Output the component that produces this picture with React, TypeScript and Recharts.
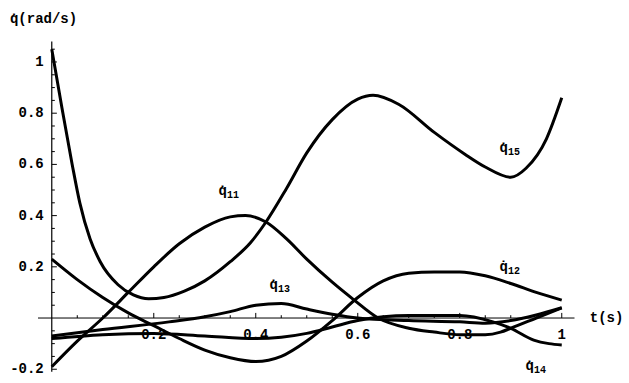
import React from "react";
import {
  LineChart,
  Line,
  XAxis,
  YAxis,
  ReferenceLine,
  ReferenceDot,
} from "recharts";

// each curve as [t, qdot] pairs
const q11: [number, number][] = [
  [0, -0.19], [0.05, -0.09], [0.1, 0.0], [0.15, 0.1], [0.2, 0.2], [0.25, 0.29],
  [0.3, 0.355], [0.35, 0.395], [0.38, 0.4], [0.42, 0.375], [0.46, 0.31], [0.5, 0.23],
  [0.55, 0.14], [0.59, 0.075], [0.64, 0.0], [0.7, -0.04], [0.75, -0.055], [0.8, -0.065],
  [0.85, -0.065], [0.88, -0.055], [0.9, -0.04], [0.95, 0.0], [1, 0.04],
];
const q12: [number, number][] = [
  [0, 0.23], [0.05, 0.15], [0.1, 0.08], [0.15, 0.02], [0.2, -0.03], [0.25, -0.08],
  [0.3, -0.125], [0.35, -0.155], [0.4, -0.17], [0.45, -0.15], [0.5, -0.09], [0.55, -0.01],
  [0.6, 0.08], [0.65, 0.145], [0.7, 0.175], [0.75, 0.18], [0.8, 0.18], [0.85, 0.165],
  [0.9, 0.135], [0.95, 0.1], [1, 0.07],
];
const q13: [number, number][] = [
  [0, -0.07], [0.1, -0.045], [0.23, -0.015], [0.3, 0.005], [0.35, 0.025], [0.4, 0.05],
  [0.45, 0.057], [0.5, 0.035], [0.55, 0.015], [0.6, 0.0], [0.7, -0.01], [0.8, -0.015],
  [0.85, -0.02], [0.9, -0.01], [0.95, 0.012], [1, 0.04],
];
const q14: [number, number][] = [
  [0, -0.08], [0.1, -0.065], [0.2, -0.06], [0.3, -0.07], [0.4, -0.08], [0.45, -0.075],
  [0.5, -0.06], [0.55, -0.035], [0.6, -0.01], [0.65, 0.005], [0.7, 0.01], [0.8, 0.01],
  [0.865, -0.015], [0.9, -0.04], [0.945, -0.086], [0.975, -0.1], [1, -0.105],
];
const q15: [number, number][] = [
  [0, 1.05], [0.02, 0.82], [0.04, 0.6], [0.055, 0.45], [0.075, 0.31], [0.095, 0.22],
  [0.13, 0.13], [0.16, 0.09], [0.19, 0.075], [0.22, 0.08], [0.26, 0.105], [0.3, 0.145],
  [0.35, 0.22], [0.39, 0.295], [0.42, 0.375], [0.46, 0.505], [0.5, 0.645], [0.55, 0.775],
  [0.6, 0.855], [0.63, 0.87], [0.68, 0.835], [0.75, 0.725], [0.81, 0.64], [0.85, 0.59],
  [0.9, 0.55], [0.93, 0.585], [0.97, 0.7], [1, 0.86],
];

const xTicks = [0.2, 0.4, 0.6, 0.8, 1];
const xTickLabels = ["0.2", "0.4", "0.6", "0.8", "1"];
const xMinor = [0.05, 0.1, 0.15, 0.25, 0.3, 0.35, 0.45, 0.5, 0.55, 0.65, 0.7, 0.75, 0.85, 0.9, 0.95];
const yTicks = [-0.2, 0.2, 0.4, 0.6, 0.8, 1];
const yTickLabels = ["-0.2", "0.2", "0.4", "0.6", "0.8", "1"];
const yMinor = [
  -0.15, -0.1, -0.05, 0.05, 0.1, 0.15, 0.25, 0.3, 0.35, 0.45, 0.5, 0.55,
  0.65, 0.7, 0.75, 0.85, 0.9, 0.95, 1.05,
];

const curves = [
  { name: "11", pts: q11, lx: 0.347, ly: 0.496 },
  { name: "12", pts: q12, lx: 0.898, ly: 0.2 },
  { name: "13", pts: q13, lx: 0.447, ly: 0.129 },
  { name: "14", pts: q14, lx: 0.949, ly: -0.1875 },
  { name: "15", pts: q15, lx: 0.898, ly: 0.664 },
];

const X_DOMAIN: [number, number] = [-0.027, 1.025];
const Y_DOMAIN: [number, number] = [-0.21, 1.08];
const FONT = "'Liberation Mono', 'DejaVu Sans Mono', monospace";

const TextAt = (props: any) => {
  const { viewBox, text, sub, anchor = "middle", dx = 0, dy = 0 } = props;
  if (!viewBox) return null;
  const cx = viewBox.x + (viewBox.width || 0) / 2 + dx;
  const cy = viewBox.y + (viewBox.height || 0) / 2 + dy;
  return (
    <text
      x={cx}
      y={cy}
      textAnchor={anchor}
      dominantBaseline="central"
      fontFamily={FONT}
      fontSize={14}
      fontWeight="bold"
      fill="#000"
    >
      {text}
      {sub && (
        <tspan fontSize={10} dy={4}>
          {sub}
        </tspan>
      )}
    </text>
  );
};

export default function App() {
  return (
    <div style={{ position: "absolute", left: 0, top: 0, background: "#fff" }}>
      <LineChart
        width={629}
        height={383}
        margin={{ top: 41.5, right: 54.5, bottom: 11.2, left: 38 }}
      >
        <XAxis dataKey="t" type="number" domain={X_DOMAIN} allowDataOverflow hide />
        <YAxis type="number" domain={Y_DOMAIN} allowDataOverflow hide />

        {/* axes through the origin */}
        <ReferenceLine
          segment={[{ x: X_DOMAIN[0], y: 0 }, { x: X_DOMAIN[1], y: 0 }]}
          stroke="#000"
          strokeWidth={1}
          ifOverflow="visible"
        />
        <ReferenceLine
          segment={[{ x: 0, y: Y_DOMAIN[0] }, { x: 0, y: Y_DOMAIN[1] }]}
          stroke="#000"
          strokeWidth={1.2}
          ifOverflow="visible"
        />
        {xTicks.map((t) => (
          <ReferenceLine
            key={"xt" + t}
            segment={[{ x: t, y: 0 }, { x: t, y: 0.02 }]}
            stroke="#000"
            ifOverflow="visible"
          />
        ))}
        {xMinor.map((t) => (
          <ReferenceLine
            key={"xm" + t}
            segment={[{ x: t, y: 0 }, { x: t, y: 0.011 }]}
            stroke="#000"
            ifOverflow="visible"
          />
        ))}
        {yTicks.map((v) => (
          <ReferenceLine
            key={"yt" + v}
            segment={[{ x: 0, y: v }, { x: 0.01, y: v }]}
            stroke="#000"
            ifOverflow="visible"
          />
        ))}
        {yMinor.map((v) => (
          <ReferenceLine
            key={"ym" + v}
            segment={[{ x: 0, y: v }, { x: 0.006, y: v }]}
            stroke="#000"
            ifOverflow="visible"
          />
        ))}
        {xTicks.map((t, i) => (
          <ReferenceDot
            key={"xl" + t}
            x={t}
            y={0}
            r={0}
            stroke="none"
            fill="none"
            ifOverflow="visible"
            label={<TextAt text={xTickLabels[i]} dy={17} />}
          />
        ))}
        {yTicks.map((v, i) => (
          <ReferenceDot
            key={"yl" + v}
            x={0}
            y={v}
            r={0}
            stroke="none"
            fill="none"
            ifOverflow="visible"
            label={<TextAt text={yTickLabels[i]} anchor="end" dx={-8} />}
          />
        ))}

        {curves.map((c) => (
          <Line
            key={c.name}
            data={c.pts.map(([t, v]) => ({ t, v }))}
            dataKey="v"
            type="monotone"
            stroke="#000"
            strokeWidth={3}
            dot={false}
            isAnimationActive={false}
          />
        ))}

        {curves.map((c) => (
          <ReferenceDot
            key={"cl" + c.name}
            x={c.lx}
            y={c.ly}
            r={0}
            stroke="none"
            fill="none"
            ifOverflow="visible"
            label={<TextAt text={"q\u0307"} sub={c.name} />}
          />
        ))}

        {/* axis titles */}
        <ReferenceDot
          x={-0.082}
          y={1.166}
          r={0}
          stroke="none"
          fill="none"
          ifOverflow="visible"
          label={<TextAt text={"q\u0307(rad/s)"} anchor="start" />}
        />
        <ReferenceDot
          x={1.055}
          y={0}
          r={0}
          stroke="none"
          fill="none"
          ifOverflow="visible"
          label={<TextAt text="t(s)" anchor="start" />}
        />
      </LineChart>
    </div>
  );
}
